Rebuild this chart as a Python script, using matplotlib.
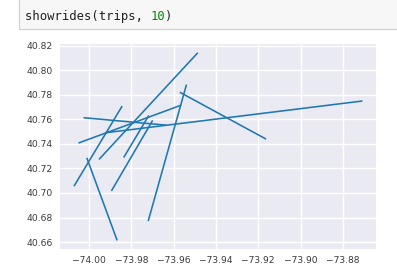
import matplotlib
matplotlib.use("Agg")
import matplotlib.pyplot as plt
from matplotlib.patches import Rectangle

# ride segments: pickup (lon, lat) -> dropoff (lon, lat)
pickup_lon = [-74.0046, -74.0069, -74.0009, -73.9950, -73.9834,
              -73.9892, -73.9719, -73.9567, -73.9920, -74.0022]
pickup_lat = [40.7410, 40.7061, 40.7281, 40.7279, 40.7295,
              40.7022, 40.6777, 40.7819, 40.7492, 40.7614]
dropoff_lon = [-73.9567, -73.9845, -73.9868, -73.9488, -73.9719,
               -73.9701, -73.9540, -73.9166, -73.8711, -73.9637]
dropoff_lat = [40.7715, 40.7704, 40.6619, 40.8140, 40.7627,
               40.7587, 40.7879, 40.7443, 40.7750, 40.7554]

x_ticks = [-74.00, -73.98, -73.96, -73.94, -73.92, -73.90, -73.88]
y_ticks = [40.66, 40.68, 40.70, 40.72, 40.74, 40.76, 40.78, 40.80, 40.82]

W, H = 397, 277
fig = plt.figure(figsize=(W / 100, H / 100), dpi=100)
fig.patch.set_facecolor("white")

# notebook input cell above the output
fig.patches.append(Rectangle((19 / W, 1 - 29.3 / H), 1, 1, transform=fig.transFigure,
                             facecolor="#f7f7f7", edgecolor="#cfcfcf", linewidth=0.8))
fs = 8.8
char_w = 0.602 * fs * 100 / 72 / W
prefix = "showrides(trips, "
fig.text(25 / W, 1 - 20 / H, prefix, family="DejaVu Sans Mono", fontsize=fs,
         color="#222222", va="baseline")
fig.text(25 / W + len(prefix) * char_w, 1 - 20 / H, "10", family="DejaVu Sans Mono",
         fontsize=fs, color="#008800", va="baseline")
fig.text(25 / W + (len(prefix) + 2) * char_w, 1 - 20 / H, ")", family="DejaVu Sans Mono",
         fontsize=fs, color="#222222", va="baseline")

ax = fig.add_axes([60 / W, 1 - 249 / H, 316 / W, 205 / H])
ax.set_facecolor("#EAEAF2")
for s in ax.spines.values():
    s.set_visible(False)
ax.grid(True, color="white", linewidth=1.0)
ax.set_axisbelow(True)

for x0, y0, x1, y1 in zip(pickup_lon, pickup_lat, dropoff_lon, dropoff_lat):
    ax.plot([x0, x1], [y0, y1], color="#1f77b4", linewidth=1.15)

ax.set_xticks(x_ticks)
ax.set_yticks(y_ticks)
ax.set_xticklabels([f"\u2212{abs(v):.2f}" for v in x_ticks])
ax.set_yticklabels([f"{v:.2f}" for v in y_ticks])
ax.tick_params(length=0, labelsize=6.6, labelcolor="#3a3a3a", pad=5)

fig.savefig("out.png", dpi=100)
